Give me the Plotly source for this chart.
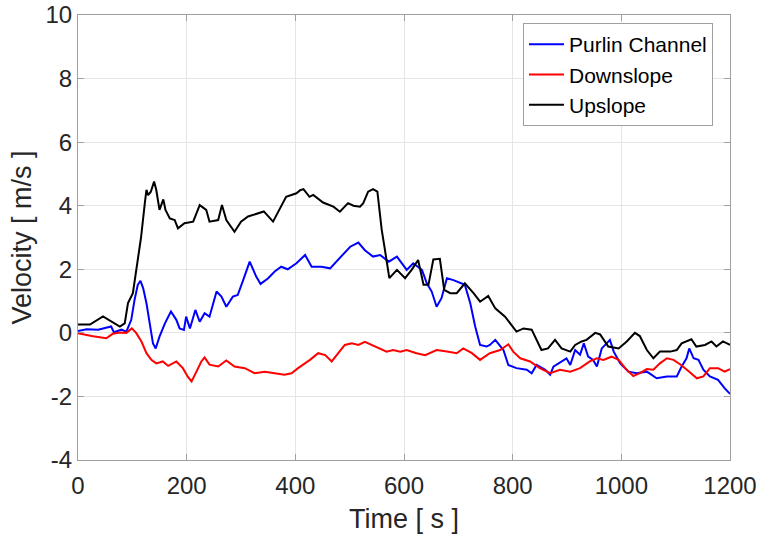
import plotly.graph_objects as go

# Upslope velocity trace (time in s, velocity in m/s)
up_t = [0, 22, 46, 77, 86, 92, 101, 110, 116, 123, 126, 129, 134, 140, 144, 150, 157, 161,
        169, 178, 184, 196, 212, 224, 236, 242, 258, 265, 273, 288, 300, 313, 322, 331, 342,
        359, 371, 383, 402, 409, 415, 426, 433, 445, 451, 470, 482, 497, 507, 519, 525, 534,
        543, 551, 559, 565, 573, 587, 602, 614, 626, 636, 645, 654, 666, 674, 685, 697, 712,
        728, 740, 755, 768, 786, 807, 820, 835, 853, 865, 878, 890, 906, 915, 927, 936, 952,
        961, 976, 995, 1010, 1025, 1034, 1047, 1059, 1071, 1090, 1102, 1111, 1129, 1138, 1154,
        1166, 1175, 1187, 1200]
up_v = [0.26, 0.26, 0.52, 0.2, 0.3, 0.94, 1.25, 2.4, 3.0, 4.08, 4.5, 4.33, 4.44, 4.76, 4.5,
        3.87, 4.2, 3.87, 3.6, 3.55, 3.29, 3.45, 3.5, 4.02, 3.87, 3.5, 3.55, 4.02, 3.55, 3.18,
        3.5, 3.66, 3.71, 3.76, 3.82, 3.5, 3.87, 4.28, 4.39, 4.49, 4.52, 4.28, 4.34, 4.18, 4.1,
        3.97, 3.81, 4.08, 4.0, 3.97, 4.08, 4.44, 4.52, 4.44, 3.24, 2.6, 1.72, 1.98, 1.72,
        1.98, 2.29, 1.51, 1.51, 2.31, 2.33, 1.35, 1.25, 1.25, 1.56, 1.25, 0.98, 1.16, 0.77,
        0.51, 0.04, 0.14, 0.1, -0.54, -0.49, -0.22, -0.49, -0.59, -0.38, -0.27, -0.22, 0.0,
        -0.05, -0.43, -0.49, -0.27, 0.0, -0.1, -0.54, -0.8, -0.59, -0.59, -0.54, -0.33,
        -0.2, -0.43, -0.38, -0.27, -0.43, -0.27, -0.38]

# Purlin channel velocity trace
pc_t = [0, 16, 37, 61, 66, 80, 89, 98, 104, 110, 115, 120, 126, 132, 138, 143, 150, 160,
        171, 181, 187, 195, 199, 206, 216, 224, 233, 242, 255, 264, 273, 285, 294, 304, 316,
        328, 336, 350, 362, 374, 386, 402, 418, 430, 448, 464, 482, 501, 516, 528, 543, 556,
        572, 587, 605, 617, 633, 642, 651, 660, 669, 679, 691, 703, 712, 722, 731, 740, 752,
        758, 768, 783, 792, 807, 826, 835, 844, 860, 869, 875, 890, 899, 906, 915, 924, 931,
        939, 948, 955, 964, 973, 979, 986, 998, 1013, 1028, 1047, 1065, 1084, 1102, 1111,
        1120, 1125, 1133, 1142, 1151, 1163, 1178, 1190, 1200]
pc_v = [0.06, 0.11, 0.1, 0.2, 0.02, 0.1, 0.04, 0.41, 1.03, 1.51, 1.64, 1.4, 0.93, 0.25,
        -0.33, -0.49, -0.12, 0.3, 0.67, 0.41, 0.14, 0.09, 0.51, 0.14, 0.72, 0.35, 0.62, 0.51,
        1.3, 1.14, 0.82, 1.14, 1.19, 1.66, 2.24, 1.77, 1.54, 1.72, 1.93, 2.08, 2.0, 2.19,
        2.45, 2.08, 2.08, 2.03, 2.35, 2.71, 2.84, 2.6, 2.4, 2.45, 2.24, 2.4, 1.98, 2.19,
        1.98, 1.56, 1.3, 0.82, 1.09, 1.72, 1.66, 1.56, 1.51, 0.93, 0.2, -0.38, -0.43, -0.38,
        -0.22, -0.54, -1.01, -1.11, -1.16, -1.27, -1.01, -1.16, -1.32, -1.06, -0.9, -0.8,
        -1.01, -0.54, -0.69, -0.33, -0.75, -0.85, -1.06, -0.49, -0.33, -0.22, -0.59, -0.96,
        -1.22, -1.27, -1.22, -1.43, -1.37, -1.37, -1.06, -0.8, -0.49, -0.8, -0.85, -1.16,
        -1.37, -1.48, -1.74, -1.92]

# Downslope velocity trace
dn_t = [0, 25, 52, 64, 77, 89, 99, 107, 117, 126, 135, 144, 156, 166, 181, 193, 202, 209,
        218, 227, 233, 242, 258, 273, 288, 307, 325, 344, 362, 380, 393, 405, 427, 442, 455,
        467, 479, 491, 504, 516, 528, 541, 553, 568, 580, 593, 605, 623, 639, 660, 679, 697,
        709, 725, 740, 758, 777, 792, 801, 814, 832, 850, 869, 887, 906, 924, 942, 955, 967,
        982, 995, 1007, 1022, 1034, 1047, 1059, 1071, 1084, 1096, 1110, 1125, 1139, 1151,
        1163, 1178, 1190, 1200]
dn_v = [-0.01, -0.1, -0.17, -0.03, 0.01, 0.0, 0.14, 0.0, -0.28, -0.64, -0.85, -0.96, -0.9,
        -1.04, -0.9, -1.11, -1.38, -1.53, -1.22, -0.9, -0.77, -1.0, -1.06, -0.87, -1.06,
        -1.11, -1.27, -1.22, -1.27, -1.32, -1.27, -1.11, -0.85, -0.64, -0.7, -0.9, -0.64,
        -0.38, -0.33, -0.38, -0.28, -0.38, -0.49, -0.59, -0.54, -0.59, -0.54, -0.64, -0.7,
        -0.54, -0.59, -0.64, -0.49, -0.64, -0.85, -0.64, -0.54, -0.36, -0.59, -0.8, -0.9,
        -1.11, -1.27, -1.16, -1.22, -1.11, -0.9, -0.8, -0.85, -0.75, -0.85, -1.11, -1.36,
        -1.27, -1.14, -1.16, -0.96, -0.8, -0.85, -1.01, -1.22, -1.43, -1.37, -1.11, -1.11,
        -1.22, -1.14]

x_ticks = [0, 200, 400, 600, 800, 1000, 1200]
y_ticks = [-4, -2, 0, 2, 4, 6, 8, 10]

FONT = "Liberation Sans, Arial, Helvetica, sans-serif"
TEXT = "#262626"

fig = go.Figure()
fig.add_trace(go.Scatter(x=pc_t, y=pc_v, mode="lines", name="Purlin Channel",
                         line=dict(color="#0000ff", width=2)))
fig.add_trace(go.Scatter(x=dn_t, y=dn_v, mode="lines", name="Downslope",
                         line=dict(color="#ff0000", width=2)))
fig.add_trace(go.Scatter(x=up_t, y=up_v, mode="lines", name="Upslope",
                         line=dict(color="#000000", width=2)))

axis_common = dict(
    showgrid=True, gridcolor="#e5e5e5", gridwidth=1,
    showline=True, linecolor="#a0a0a0", linewidth=1, mirror="ticks",
    ticks="inside", ticklen=6, tickcolor="#a0a0a0",
    zeroline=False, automargin=False,
    tickfont=dict(family=FONT, size=24, color=TEXT),
)

fig.update_layout(
    width=761, height=540,
    margin=dict(l=78, r=31, t=15, b=80),
    paper_bgcolor="white", plot_bgcolor="white",
    font=dict(family=FONT, color=TEXT),
    xaxis=dict(range=[0, 1200], tickvals=x_ticks, ticktext=[str(v) for v in x_ticks],
               ticklabelstandoff=4,
               title=dict(text="Time [ s ]", font=dict(family=FONT, size=27, color=TEXT),
                          standoff=11),
               **axis_common),
    yaxis=dict(range=[-4, 10], tickvals=y_ticks, ticktext=[str(v) for v in y_ticks],
               title=dict(text="Velocity [ m/s ]", font=dict(family=FONT, size=27, color=TEXT),
                          standoff=6),
               **axis_common),
    legend=dict(x=0.6825, y=0.982, xanchor="left", yanchor="top",
                bgcolor="white", bordercolor="#a0a0a0", borderwidth=1,
                font=dict(family=FONT, size=21, color="#000000"),
                tracegroupgap=0, itemwidth=35),
    showlegend=True,
)

fig.write_html("out.html")
